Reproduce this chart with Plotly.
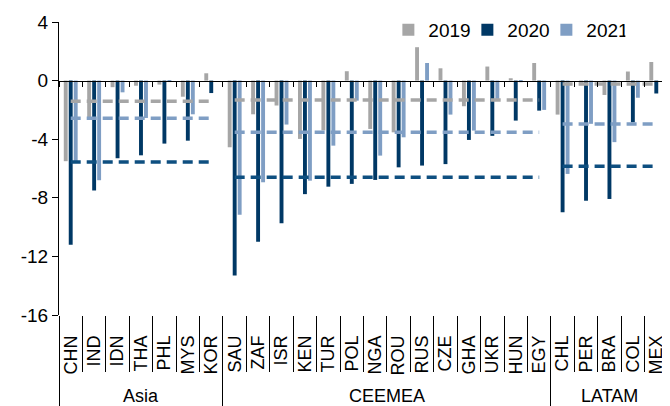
import plotly.graph_objects as go

# ---------------- data ----------------
groups = ["Asia", "CEEMEA", "LATAM"]
asia = ["CHN", "IND", "IDN", "THA", "PHL", "MYS", "KOR"]
ceemea = ["SAU", "ZAF", "ISR", "KEN", "TUR", "POL", "NGA", "ROU", "RUS",
          "CZE", "GHA", "UKR", "HUN", "EGY"]
latam = ["CHL", "PER", "BRA", "COL", "MEX"]

y2019 = [-5.5, -2.5, -0.45, -0.35, -0.27, -1.1, 0.5,
         -4.55, -2.3, -1.7, -3.98, -3.4, 0.64, -3.3, -3.53, 2.28, 0.84, -1.75, 0.96, 0.16, 1.2,
         -2.32, -0.2, -0.98, 0.62, 1.27]
y2020 = [-11.2, -7.5, -5.3, -5.1, -4.3, -4.1, -0.85,
         -13.3, -11.0, -9.74, -7.75, -7.24, -7.05, -6.78, -5.92, -5.8, -5.7, -4.05, -3.77, -2.73, -2.05,
         -8.98, -8.2, -8.08, -2.85, -0.88]
y2021 = [-5.55, -6.8, -0.8, -2.55, -0.1, -2.3, 0.0,
         -9.15, -6.94, -3.0, -6.83, -4.44, -1.37, -5.12, -3.87, 1.2, -2.32, -3.41, -1.25, -0.11, -2.0,
         -6.37, -2.95, -4.2, -1.17, 0.0]

# group averages (dashed lines), per group: Asia, CEEMEA, LATAM
avg2019 = [-1.41, -1.32, -0.23]
avg2020 = [-5.55, -6.6, -5.85]
avg2021 = [-2.57, -3.53, -2.96]

y_tickvals = [4, 0, -4, -8, -12, -16]
y_ticktext = ["4", "0", "-4", "-8", "-12", "-16"]

# ---------------- styling ----------------
GREY = "#A6A6A6"
NAVY = "#003865"
LIGHT = "#7F9EC4"
NAVY_DASH = "#0E4F80"
FONT = "Liberation Sans, Arial, sans-serif"

members = [asia, ceemea, latam]
country_col = [c for m in members for c in m]
n = len(country_col)
rng = [-0.5, n - 0.5]

# group boundaries / centres in category-index units
starts, centres = [], []
pos = 0
for m in members:
    starts.append(pos - 0.5)
    centres.append(pos + (len(m) - 1) / 2)
    pos += len(m)

fig = go.Figure()
for name, vals, col in [("2019", y2019, GREY), ("2020", y2020, NAVY), ("2021", y2021, LIGHT)]:
    fig.add_trace(go.Bar(x=country_col, y=vals, name=name,
                         marker=dict(color=col, line=dict(width=0)),
                         hoverinfo="skip"))

for avgs, col in [(avg2019, GREY), (avg2021, LIGHT), (avg2020, NAVY_DASH)]:
    for m, a in zip(members, avgs):
        fig.add_trace(go.Scatter(x=m, y=[a] * len(m), mode="lines",
                                 line=dict(color=col, width=3.5, dash="10px,6px"),
                                 showlegend=False, hoverinfo="skip"))

# helper invisible traces for overlay axes (zero-line ticks, category dividers, group dividers)
for ax in ["x2", "x3"]:
    fig.add_trace(go.Scatter(x=country_col, y=[0] * n, xaxis=ax, mode="markers",
                             marker=dict(opacity=0), showlegend=False, hoverinfo="skip"))
fig.add_trace(go.Scatter(x=starts, y=[0] * len(starts), xaxis="x4", mode="markers",
                         marker=dict(opacity=0), showlegend=False, hoverinfo="skip"))

# group labels
for g, c in zip(groups, centres):
    fig.add_annotation(x=c, xref="x", y=-0.2765, yref="paper", text=g,
                       showarrow=False, yanchor="middle", xanchor="center",
                       font=dict(size=18, family=FONT, color="black"))

fig.update_layout(
    width=662, height=398,
    margin=dict(l=51, r=2, t=14, b=91, autoexpand=False),
    paper_bgcolor="white", plot_bgcolor="white",
    font=dict(family=FONT, size=19, color="black"),
    barmode="group", bargap=0.36, bargroupgap=0.22,
    showlegend=True,
    legend=dict(orientation="h", x=0.93, xanchor="right", y=0.973, yanchor="middle",
                font=dict(size=19), bgcolor="rgba(0,0,0,0)",
                itemwidth=30, tracegroupgap=0, entrywidth=34, entrywidthmode="pixels"),
    xaxis=dict(type="category", range=rng, showline=False, ticks="",
               tickangle=-90, tickfont=dict(size=18), showgrid=False,
               automargin=False, ticklabelstandoff=16),
    xaxis2=dict(type="category", overlaying="x", anchor="free", position=0.8,
                range=rng, showline=True, linecolor="black", linewidth=1,
                ticks="outside", ticklen=5, tickcolor="black", tickson="boundaries",
                showticklabels=False, showgrid=False, automargin=False),
    xaxis3=dict(type="category", overlaying="x", anchor="y", side="bottom",
                range=rng, showline=False,
                ticks="outside", ticklen=56, tickcolor="black", tickson="boundaries",
                showticklabels=False, showgrid=False, automargin=False),
    xaxis4=dict(type="linear", overlaying="x", anchor="y", side="bottom",
                range=rng, showline=False, tickmode="array", tickvals=starts,
                ticks="outside", ticklen=91, tickcolor="black",
                showticklabels=False, showgrid=False, zeroline=False, automargin=False),
    yaxis=dict(range=[-16, 4], tickvals=y_tickvals, ticktext=y_ticktext,
               showline=True, linecolor="black", linewidth=1,
               ticks="outside", ticklen=6, tickcolor="black",
               showgrid=False, zeroline=False, tickfont=dict(size=19),
               automargin=False),
)

fig.write_html("out.html")
